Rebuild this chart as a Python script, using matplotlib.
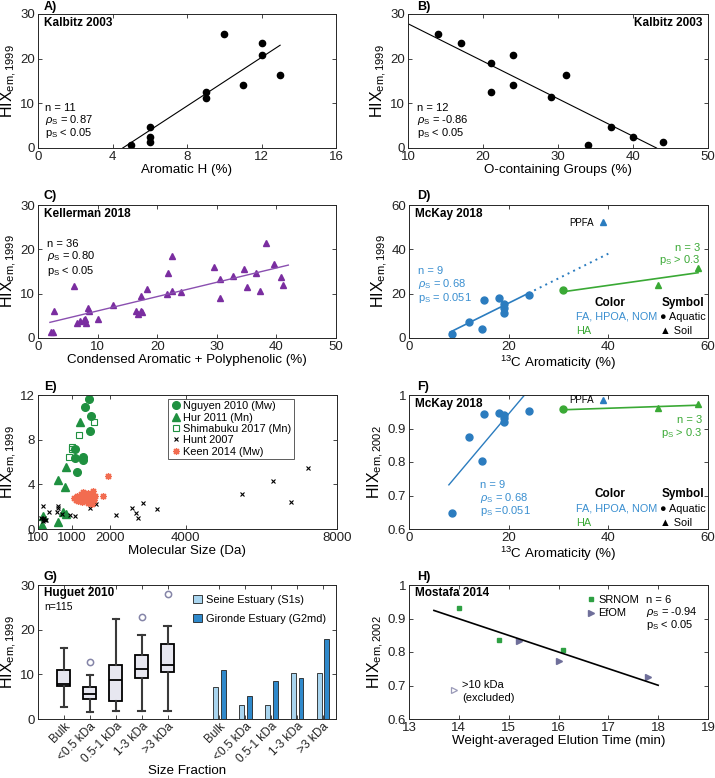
import numpy as np
import matplotlib
matplotlib.use('Agg')
import matplotlib.pyplot as plt

plt.rcParams['font.family'] = ['Liberation Sans', 'DejaVu Sans']
plt.rcParams['mathtext.fontset'] = 'custom'
plt.rcParams['mathtext.rm'] = 'Liberation Sans'
plt.rcParams['mathtext.it'] = 'Liberation Sans:italic'
plt.rcParams['mathtext.bf'] = 'Liberation Sans:bold'

# ---------------- DATA ----------------
# A) Kalbitz 2003
a_aromatic_h = [5, 6, 6, 6, 9, 9, 10, 11, 12, 12, 13]
a_hix = [0.7, 4.7, 2.5, 1.4, 12.5, 11.3, 25.5, 14.0, 23.6, 20.8, 16.3]
# B) Kalbitz 2003
b_o_groups = [14, 17, 21, 21, 24, 24, 29, 31, 34, 37, 40, 44]
b_hix = [25.5, 23.6, 19.1, 12.5, 20.8, 14.0, 11.4, 16.3, 0.7, 4.7, 2.5, 1.4]
# C) Kellerman 2018
c_condensed = [2.1, 2.5, 2.7, 6.1, 6.5, 7.1, 7.9, 8.0, 7.8, 8.4, 8.5, 10.0, 12.6, 16.5,
               16.8, 17.2, 17.5, 17.2, 18.3, 21.6, 21.8, 22.4, 22.5, 24.0, 29.6, 30.5,
               30.6, 32.8, 34.6, 35.1, 36.5, 37.3, 38.2, 39.6, 40.8, 41.1]
c_hix = [1.3, 1.3, 6.2, 11.8, 3.4, 3.75, 4.35, 3.4, 4.0, 6.75, 6.0, 4.35, 7.35, 6.2,
         5.4, 6.0, 5.8, 9.4, 11.1, 9.9, 14.6, 18.5, 10.65, 10.3, 16.0, 9.0,
         13.2, 13.9, 15.6, 11.6, 14.6, 10.65, 21.5, 16.8, 13.7, 12.0]
# D/F) McKay 2018
aq_arom = [8.7, 12.0, 14.7, 15.1, 18.0, 19.0, 19.0, 19.1, 24.0]
aq_hix1999 = [1.95, 7.05, 4.2, 17.0, 18.0, 15.45, 13.5, 11.4, 19.35]
aq_hix2002 = [0.647, 0.875, 0.803, 0.944, 0.947, 0.940, 0.930, 0.919, 0.951]
ppfa_arom = 39.0
ppfa_hix1999 = 52.5
ppfa_hix2002 = 0.984
ha_arom = [31.0, 50.0, 58.0]
ha_origin = ['Aquatic', 'Soil', 'Soil']
ha_hix1999 = [21.75, 24.0, 31.5]
ha_hix2002 = [0.957, 0.962, 0.972]
# E) molecular size
nguyen_size = [1441, 1343, 1502, 1467, 1087, 1282, 1079, 1299, 1131]
nguyen_hix = [11.6, 10.9, 10.1, 8.8, 7.15, 6.43, 6.34, 6.16, 5.14]
hur_size = [1211, 841, 629, 814, 224, 198, 629, 753, 833]
hur_hix = [9.57, 5.56, 4.42, 3.73, 1.15, 0.4, 0.65, 1.51, 1.33]
shim_size = [1589, 1192, 991, 999, 928]
shim_hix = [9.6, 8.4, 7.35, 7.12, 6.49]
hunt_size = [241, 621, 621, 391, 594, 727, 946, 1087, 180, 220, 250, 280, 310, 230,
             1475, 1642, 2163, 2578, 2692, 2753, 2886, 3239, 5487, 6308, 6783, 7233]
hunt_hix = [2.02, 2.02, 1.9, 1.48, 1.54, 1.3, 1.21, 1.12, 1.0, 0.9, 0.95, 0.85, 0.8, 0.75,
            1.9, 2.2, 1.21, 1.9, 1.46, 1.0, 2.32, 1.75, 3.16, 4.3, 2.38, 5.5]
keen_size = [1050, 1100, 1120, 1150, 1180, 1200, 1230, 1250, 1280, 1300, 1320, 1350,
             1370, 1400, 1420, 1440, 1450, 1470, 1490, 1500, 1520, 1540, 1560, 1580,
             1600, 1430, 1380, 1470, 1520, 1827, 1943]
keen_hix = [2.8, 2.6, 3.0, 2.5, 2.9, 2.7, 3.1, 2.4, 2.8, 3.3, 2.6, 3.0,
            2.5, 2.8, 3.2, 2.6, 2.9, 2.4, 3.0, 2.7, 2.5, 3.4, 2.8, 2.6,
            3.0, 2.3, 2.7, 3.1, 2.2, 2.92, 4.78]
# G) Huguet 2010
size_fractions = ['Bulk', '<0.5 kDa', '0.5-1 kDa', '1-3 kDa', '>3 kDa']
box_whislo = [2.6, 1.5, 1.8, 1.9, 1.8]
box_q1 = [7.4, 4.5, 4.1, 9.1, 10.5]
box_med = [7.8, 5.5, 8.7, 11.1, 12.0]
box_q3 = [11.0, 7.1, 12.2, 14.3, 16.7]
box_whishi = [15.9, 9.9, 22.5, 18.7, 20.8]
box_fliers = [[], [12.8], [], [22.9], [28.0]]
seine_hix = [7.2, 3.2, 3.2, 10.4, 10.4]
gironde_hix = [10.9, 5.2, 8.6, 9.2, 17.8]
# H) Mostafa 2014
srnom_time = [14.0, 14.8, 16.1]
srnom_hix = [0.930, 0.836, 0.806]
efom_time = [15.2, 16.0, 17.8]
efom_hix = [0.834, 0.772, 0.726]
excl_time = [13.9]
excl_hix = [0.688]

# ---------------- STYLE ----------------
W, H = 715, 778
fig = plt.figure(figsize=(W / 100, H / 100), dpi=100)
BLUE = '#2b7cbf'
BLUE_T = '#3a8fd0'
GREEN = '#3aa935'
EGREEN = '#1f9040'
PURPLE = '#7a2da0'
AX = '#262626'
FS = 9.5       # tick labels
XLFS = 9.6     # x labels
YLFS = 11.5    # y labels
TFS = 8.5      # bold titles
SFS = 8.0      # stats text
YL = r'HIX$_{\mathrm{em,1999}}$'
YL2 = r'HIX$_{\mathrm{em,2002}}$'
RHO = r'$\rho_{\mathrm{S}}$'
PS = r'p$_{\mathrm{S}}$'


def add_ax(l, r, t, b):
    ax = fig.add_axes([l / W, 1 - b / H, (r - l) / W, (b - t) / H])
    ax.tick_params(direction='in', top=True, right=True, length=3, width=0.6,
                   labelsize=FS, pad=2, colors=AX, labelcolor='#222222')
    for s in ax.spines.values():
        s.set_linewidth(0.7)
        s.set_color(AX)
    return ax


def plabel(x, y, s):
    fig.text(x / W, 1 - y / H, s, fontsize=9, fontweight='bold', va='center', ha='left')


def stat_lines(ax, x, ys, lines, **kw):
    for y, s in zip(ys, lines):
        ax.text(x, y, s, transform=ax.transAxes, fontsize=SFS, va='center', **kw)


def fit(x, y):
    return np.polyfit(np.asarray(x, float), np.asarray(y, float), 1)


LX, LR = 38, 336
RX, RR = 409, 708
rows = [(14, 148), (205, 338), (395, 529), (585, 719)]

# ---------------- A ----------------
ax = add_ax(LX, LR, *rows[0])
ax.plot(a_aromatic_h, a_hix, 'o', color='black', ms=4.5)
m, b = fit(a_aromatic_h, a_hix)
xs = np.array([-b / m, max(a_aromatic_h)])
ax.plot(xs, m * xs + b, color='black', lw=0.8)
ax.set_xlim(0, 16); ax.set_ylim(0, 30)
ax.set_xticks([0, 4, 8, 12, 16]); ax.set_yticks([0, 10, 20, 30])
ax.set_xlabel('Aromatic H (%)', fontsize=XLFS, labelpad=1)
ax.set_ylabel(YL, fontsize=YLFS, labelpad=1)
ax.text(0.02, 0.93, 'Kalbitz 2003', transform=ax.transAxes, fontsize=TFS, fontweight='bold', va='center')
stat_lines(ax, 0.025, [0.30, 0.21, 0.11], ['n = 11', RHO + ' = 0.87', PS + ' < 0.05'])
plabel(44, 7, 'A)')

# ---------------- B ----------------
ax = add_ax(RX - 1, RR, *rows[0])
ax.plot(b_o_groups, b_hix, 'o', color='black', ms=4.5)
m, b = fit(b_o_groups, b_hix)
xs = np.array([10, -b / m])
ax.plot(xs, m * xs + b, color='black', lw=0.8)
ax.set_xlim(10, 50); ax.set_ylim(0, 30)
ax.set_xticks([10, 20, 30, 40, 50]); ax.set_yticks([0, 10, 20, 30])
ax.set_xlabel('O-containing Groups (%)', fontsize=XLFS, labelpad=1)
ax.set_ylabel(YL, fontsize=YLFS, labelpad=1)
ax.text(0.98, 0.93, 'Kalbitz 2003', transform=ax.transAxes, fontsize=TFS, fontweight='bold', va='center', ha='right')
stat_lines(ax, 0.03, [0.30, 0.21, 0.11], ['n = 12', RHO + ' = -0.86', PS + ' < 0.05'])
plabel(417, 7, 'B)')

# ---------------- C ----------------
ax = add_ax(LX, LR, *rows[1])
ax.plot(c_condensed, c_hix, '^', color=PURPLE, ms=5)
m, b = fit(c_condensed, c_hix)
xs = np.array([2.0, 42.0])
ax.plot(xs, m * xs + b, color='#8a4fb0', lw=1.0)
ax.set_xlim(0, 50); ax.set_ylim(0, 30)
ax.set_xticks([0, 10, 20, 30, 40, 50]); ax.set_yticks([0, 10, 20, 30])
ax.set_xlabel('Condensed Aromatic + Polyphenolic (%)', fontsize=XLFS, labelpad=1)
ax.set_ylabel(YL, fontsize=YLFS, labelpad=1)
ax.text(0.02, 0.93, 'Kellerman 2018', transform=ax.transAxes, fontsize=TFS, fontweight='bold', va='center')
stat_lines(ax, 0.03, [0.71, 0.615, 0.505], ['n = 36', RHO + ' = 0.80', PS + ' < 0.05'])
plabel(44, 196, 'C)')


def mckay_common(ax, ypos_color):
    yc, y1, y2 = ypos_color
    ax.text(0.672, yc, 'Color', transform=ax.transAxes, fontsize=TFS, fontweight='bold', va='center', ha='center')
    ax.text(0.915, yc, 'Symbol', transform=ax.transAxes, fontsize=TFS, fontweight='bold', va='center', ha='center')
    ax.text(0.56, y1, 'FA, HPOA, NOM', transform=ax.transAxes, fontsize=7.8, va='center', color=BLUE_T)
    ax.text(0.56, y2, 'HA', transform=ax.transAxes, fontsize=7.8, va='center', color=GREEN)
    ax.text(0.838, y1, '\u25CF Aquatic', transform=ax.transAxes, fontsize=7.8, va='center')
    ax.text(0.838, y2, '\u25B2 Soil', transform=ax.transAxes, fontsize=7.8, va='center')


# ---------------- D ----------------
ax = add_ax(RX, RR, *rows[1])
ax.plot(aq_arom, aq_hix1999, 'o', color=BLUE, ms=5)
ax.plot([ppfa_arom], [ppfa_hix1999], '^', color=BLUE, ms=5)
for xv, yv, o in zip(ha_arom, ha_hix1999, ha_origin):
    ax.plot([xv], [yv], 'o' if o == 'Aquatic' else '^', color=GREEN, ms=5)
m, b = fit(aq_arom, aq_hix1999)
xs = np.array([min(aq_arom) - 0.4, max(aq_arom)])
ax.plot(xs, m * xs + b, color=BLUE, lw=1.2)
xs = np.array([max(aq_arom), 40])
ax.plot(xs, m * xs + b, color=BLUE, lw=1.4, ls=(0, (1, 2.2)))
m, b = fit(ha_arom, ha_hix1999)
xs = np.array([min(ha_arom), max(ha_arom)])
ax.plot(xs, m * xs + b, color=GREEN, lw=1.2)
ax.set_xlim(0, 60); ax.set_ylim(0, 60)
ax.set_xticks([0, 20, 40, 60]); ax.set_yticks([0, 20, 40, 60])
ax.set_xlabel(r'$^{13}$C Aromaticity (%)', fontsize=XLFS, labelpad=1)
ax.set_ylabel(YL, fontsize=YLFS, labelpad=1)
ax.text(0.02, 0.93, 'McKay 2018', transform=ax.transAxes, fontsize=TFS, fontweight='bold', va='center')
ax.text(ppfa_arom - 2, ppfa_hix1999 - 0.5, 'PPFA', fontsize=7, va='center', ha='right')
stat_lines(ax, 0.03, [0.50, 0.405, 0.30], ['n = 9', RHO + ' = 0.68', PS + ' = 0.051'], color=BLUE_T)
stat_lines(ax, 0.975, [0.68, 0.585], ['n = 3', PS + ' > 0.3'], color=GREEN, ha='right')
mckay_common(ax, (0.265, 0.16, 0.055))
plabel(417, 196, 'D)')

# ---------------- E ----------------
ax = add_ax(LX, LR + 1, *rows[2])
ax.plot(nguyen_size, nguyen_hix, 'o', color=EGREEN, ms=5.5, label='Nguyen 2010 (Mw)', ls='none')
ax.plot(hur_size, hur_hix, '^', color=EGREEN, ms=5.5, label='Hur 2011 (Mn)', ls='none')
ax.plot(shim_size, shim_hix, 's', mfc='none', mec=EGREEN, mew=0.8, ms=4, label='Shimabuku 2017 (Mn)', ls='none')
ax.plot(hunt_size, hunt_hix, 'x', color='black', ms=3.5, mew=0.8, label='Hunt 2007', ls='none')
ax.plot(keen_size, keen_hix, marker=(8, 2, 0), color='#f26c50', ms=5, mew=0.9, label='Keen 2014 (Mw)', ls='none')
ax.set_xlim(100, 8000); ax.set_ylim(0, 12)
ax.set_xticks([100, 1000, 2000, 4000, 8000]); ax.set_yticks([0, 4, 8, 12])
ax.set_xlabel('Molecular Size (Da)', fontsize=XLFS, labelpad=1)
ax.set_ylabel(YL, fontsize=YLFS, labelpad=1)
leg = ax.legend(loc='upper right', bbox_to_anchor=(0.862, 0.99), fontsize=7.9, frameon=True,
                fancybox=False, edgecolor='#333333', borderpad=0.25, labelspacing=0.12,
                handletextpad=0.1, handlelength=1.0, borderaxespad=0.2)
leg.get_frame().set_linewidth(0.7)
plabel(44, 387, 'E)')

# ---------------- F ----------------
ax = add_ax(RX, RR, *rows[2])
ax.plot(aq_arom, aq_hix2002, 'o', color=BLUE, ms=5)
ax.plot([ppfa_arom], [ppfa_hix2002], '^', color=BLUE, ms=5)
for xv, yv, o in zip(ha_arom, ha_hix2002, ha_origin):
    ax.plot([xv], [yv], 'o' if o == 'Aquatic' else '^', color=GREEN, ms=5)
m, b = fit(aq_arom, aq_hix2002)
xs = np.array([8.0, max(aq_arom)])
ax.plot(xs, m * xs + b, color=BLUE, lw=1.0)
m, b = fit(ha_arom, ha_hix2002)
xs = np.array([min(ha_arom), max(ha_arom)])
ax.plot(xs, m * xs + b, color=GREEN, lw=1.2)
ax.set_xlim(0, 60); ax.set_ylim(0.6, 1.0)
ax.set_xticks([0, 20, 40, 60]); ax.set_yticks([0.6, 0.7, 0.8, 0.9, 1.0])
ax.set_yticklabels(['0.6', '0.7', '0.8', '0.9', '1'])
ax.set_xlabel(r'$^{13}$C Aromaticity (%)', fontsize=XLFS, labelpad=1)
ax.set_ylabel(YL2, fontsize=YLFS, labelpad=1)
ax.text(0.02, 0.93, 'McKay 2018', transform=ax.transAxes, fontsize=TFS, fontweight='bold', va='center')
ax.text(ppfa_arom - 2, ppfa_hix2002, 'PPFA', fontsize=7, va='center', ha='right')
stat_lines(ax, 0.237, [0.33, 0.235, 0.135], ['n = 9', RHO + ' = 0.68', PS + ' =0.051'], color=BLUE_T)
stat_lines(ax, 0.98, [0.81, 0.715], ['n = 3', PS + ' > 0.3'], color=GREEN, ha='right')
mckay_common(ax, (0.26, 0.15, 0.045))
plabel(417, 387, 'F)')

# ---------------- G ----------------
ax = add_ax(LX, LR, *rows[3])
stats = []
for i in range(len(size_fractions)):
    stats.append(dict(med=box_med[i], q1=box_q1[i], q3=box_q3[i], whislo=box_whislo[i],
                      whishi=box_whishi[i], fliers=box_fliers[i]))
box_pos = np.arange(1, len(size_fractions) + 1)
ax.bxp(stats, positions=box_pos, widths=0.5, patch_artist=True, capwidths=0.25,
       boxprops=dict(facecolor='#e7e7f0', edgecolor='black', linewidth=1.3),
       medianprops=dict(color='black', linewidth=1.3),
       whiskerprops=dict(color='#3a3a3a', linewidth=1.5),
       capprops=dict(color='#3a3a3a', linewidth=1.5),
       flierprops=dict(marker='o', mfc='none', mec='#8585a8', ms=4.5, mew=1.1))
bar_pos = box_pos + len(size_fractions) + 1
ax.bar(bar_pos - 0.15, seine_hix, width=0.19, color='#a9d5ef', edgecolor='#222222', lw=0.6,
       label='Seine Estuary (S1s)')
ax.bar(bar_pos + 0.15, gironde_hix, width=0.19, color='#2f89cb', edgecolor='#222222', lw=0.6,
       label='Gironde Estuary (G2md)')
ax.set_xlim(0, 11.5); ax.set_ylim(0, 30)
ax.set_yticks([0, 10, 20, 30])
ax.set_xticks(list(box_pos) + list(bar_pos))
ax.set_xticklabels(size_fractions * 2, rotation=45, ha='right', rotation_mode='anchor', fontsize=8.6)
ax.tick_params(axis='x', pad=1)
ax.set_xlabel('Size Fraction', fontsize=XLFS, labelpad=0)
ax.set_ylabel(YL, fontsize=YLFS, labelpad=1)
ax.legend(loc='upper right', bbox_to_anchor=(1.0, 1.0), fontsize=7.9, frameon=False,
          handlelength=0.8, handleheight=0.8, handletextpad=0.4, labelspacing=0.8)
ax.text(0.02, 0.94, 'Huguet 2010', transform=ax.transAxes, fontsize=TFS, fontweight='bold', va='center')
ax.text(0.02, 0.835, 'n=115', transform=ax.transAxes, fontsize=7.5, va='center')
plabel(44, 577, 'G)')

# ---------------- H ----------------
ax = add_ax(RX, RR, *rows[3])
ax.plot(srnom_time, srnom_hix, 's', color='#2ea043', ms=3.5, ls='none', label='SRNOM')
ax.plot(efom_time, efom_hix, '>', color='#6f6f9a', ms=5, ls='none', label='EfOM')
ax.plot(excl_time, excl_hix, '>', mfc='none', mec='#9a9ab8', ms=5, mew=0.9, ls='none')
all_t = srnom_time + efom_time
all_h = srnom_hix + efom_hix
m, b = fit(all_t, all_h)
xs = np.array([13.5, 18.0])
ax.plot(xs, m * xs + b, color='black', lw=1.2)
ax.set_xlim(13, 19); ax.set_ylim(0.6, 1.0)
ax.set_xticks([13, 14, 15, 16, 17, 18, 19]); ax.set_yticks([0.6, 0.7, 0.8, 0.9, 1.0])
ax.set_yticklabels(['0.6', '0.7', '0.8', '0.9', '1'])
ax.set_xlabel('Weight-averaged Elution Time (min)', fontsize=XLFS, labelpad=1)
ax.set_ylabel(YL2, fontsize=YLFS, labelpad=1)
ax.legend(loc='upper left', bbox_to_anchor=(0.575, 0.97), fontsize=7.9, frameon=False,
          handlelength=0.8, handletextpad=0.3, labelspacing=0.35, borderaxespad=0.1)
ax.text(0.02, 0.94, 'Mostafa 2014', transform=ax.transAxes, fontsize=TFS, fontweight='bold', va='center')
stat_lines(ax, 0.792, [0.89, 0.80, 0.70], ['n = 6', RHO + ' = -0.94', PS + ' < 0.05'])
stat_lines(ax, 0.177, [0.25, 0.16], ['>10 kDa', '(excluded)'])
plabel(417, 577, 'H)')

fig.savefig('out.png', dpi=100)
